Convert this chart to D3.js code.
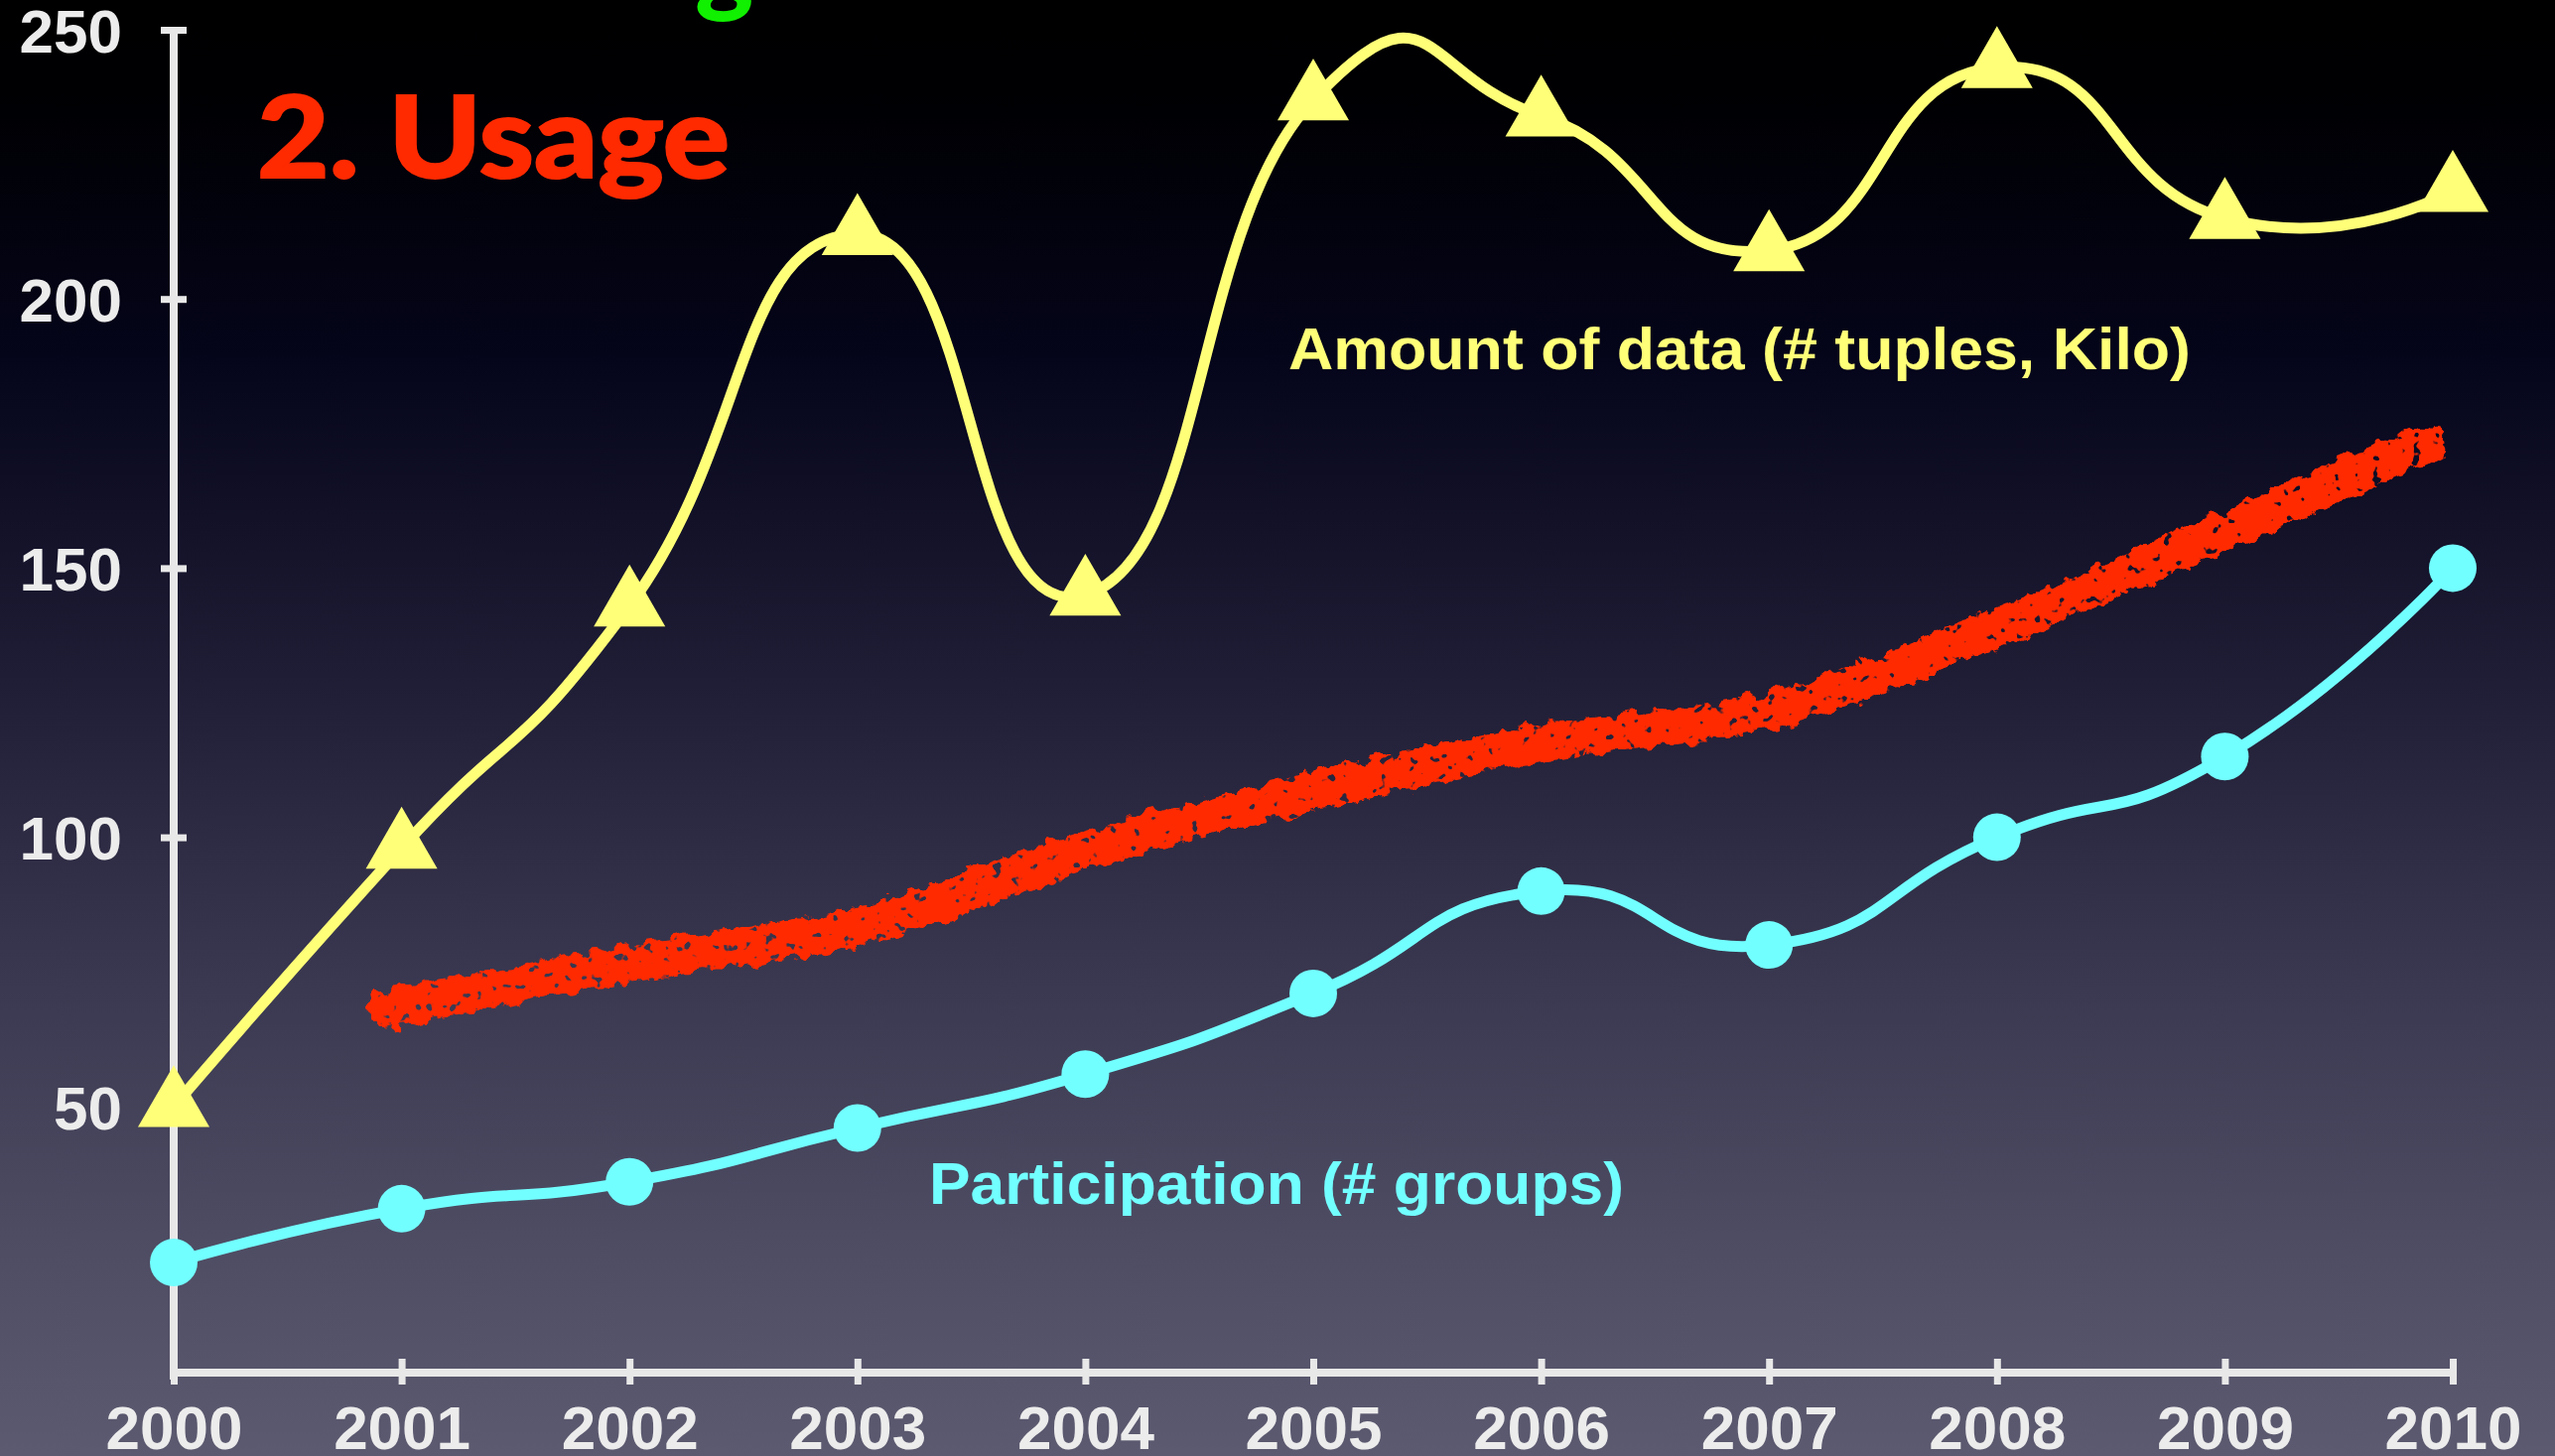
<!DOCTYPE html>
<html lang="en">
    <head>
        <meta charset="utf-8">
        <title>usage</title>
        <script type="text/javascript" src="https://cdnjs.cloudflare.com/ajax/libs/d3/7.8.5/d3.min.js"></script>
        <style type="text/css">
        body { margin: 0; padding: 0; background: #000; overflow: hidden; }
        svg { display: block; }
        </style>
    </head>
    <body>
        <div id = "drawing"></div>
        <script type="text/javascript">
            // values
            var years = [2000, 2001, 2002, 2003, 2004, 2005, 2006, 2007, 2008, 2009, 2010];
            var amountData = [50, 98, 143, 212, 145, 237, 234, 209, 243, 215, 220];
            var participation = [21, 31, 36, 46, 56, 71, 90, 80, 100, 115, 150];
            // hand drawn red trend stroke
            var trendYears = [2000.93, 2002, 2003, 2004, 2005, 2006, 2007, 2008, 2009, 2009.88];
            var trendValues = [68, 76.5, 83.5, 97.5, 108.5, 117.5, 123.5, 139, 157, 173];
            var yTicks = [50, 100, 150, 200, 250];
            var title = "2. Usage";
            var amountLabel = "Amount of data (# tuples, Kilo)";
            var partLabel = "Participation (# groups)";

            var W = 2574, H = 1467;
            var yellow = "#ffff78", cyan = "#72ffff", red = "#ff2a00", axisCol = "#e8e8e8";

            var svg = d3.select("#drawing")
                .append("svg")
                .attr("width", W)
                .attr("height", H);

            var defs = svg.append("defs");
            var grad = defs.append("linearGradient")
                .attr("id", "bg")
                .attr("x1", 0).attr("y1", 0).attr("x2", 0).attr("y2", 1);
            [[0, "#000000"], [0.08, "#000004"], [0.25, "#05051b"], [0.48, "#211f37"],
             [0.68, "#3b3951"], [0.85, "#4e4c63"], [1, "#5c5a70"]].forEach(function(s){
                grad.append("stop").attr("offset", s[0]).attr("stop-color", s[1]);
            });

            // rough marker-pen look for the trend stroke
            var rough = defs.append("filter")
                .attr("id", "rough")
                .attr("x", "-5%").attr("y", "-30%")
                .attr("width", "110%").attr("height", "160%");
            rough.append("feTurbulence")
                .attr("type", "fractalNoise").attr("baseFrequency", "0.06")
                .attr("numOctaves", 3).attr("seed", 4).attr("result", "noise");
            rough.append("feDisplacementMap")
                .attr("in", "SourceGraphic").attr("in2", "noise")
                .attr("scale", 20).attr("xChannelSelector", "R").attr("yChannelSelector", "G")
                .attr("result", "disp");
            rough.append("feTurbulence")
                .attr("type", "fractalNoise").attr("baseFrequency", "0.1")
                .attr("numOctaves", 2).attr("seed", 11).attr("result", "n2");
            rough.append("feColorMatrix")
                .attr("in", "n2").attr("type", "matrix")
                .attr("values", "0 0 0 0 0  0 0 0 0 0  0 0 0 0 0  16 0 0 0 -4.3")
                .attr("result", "mask");
            rough.append("feComposite")
                .attr("in", "disp").attr("in2", "mask").attr("operator", "in");

            svg.append("rect")
                .attr("width", W).attr("height", H)
                .style("fill", "url(#bg)");

            var x = d3.scaleLinear().domain([2000, 2010]).range([175, 2471]);
            var y = d3.scaleLinear().domain([0, 250]).range([1386, 30]);

            // title, with the bottom of the green line above it peeking in
            svg.append("text")
                .attr("x", 700)
                .attr("y", 2)
                .attr("font-family", "Lato, sans-serif")
                .attr("font-weight", 900)
                .attr("font-size", "112px")
                .style("fill", "#10f000")
                .text("g");

            svg.append("text")
                .attr("x", 259)
                .attr("y", 179)
                .attr("font-family", "Lato, sans-serif")
                .attr("font-weight", 900)
                .attr("font-size", "114px")
                .attr("textLength", 476)
                .attr("lengthAdjust", "spacingAndGlyphs")
                .style("fill", red)
                .style("stroke", red)
                .style("stroke-width", 2)
                .text(title);

            // axes
            var yAxis = svg.append("g")
                .attr("transform", "translate(" + x(2000) + ",0)")
                .call(d3.axisLeft(y).tickValues(yTicks).tickSizeOuter(0).tickFormat(d3.format("d")));
            yAxis.select(".domain")
                .attr("stroke", axisCol).attr("stroke-width", 8)
                .attr("d", "M0," + (y(0) + 4) + "V" + y(250));
            yAxis.selectAll(".tick line")
                .attr("x1", -13).attr("x2", 13)
                .attr("stroke", axisCol).attr("stroke-width", 7);
            yAxis.selectAll(".tick text")
                .attr("x", -52).attr("dy", "0.36em")
                .attr("font-family", "'Liberation Sans', Arial, sans-serif")
                .attr("font-weight", "bold")
                .attr("font-size", "62px")
                .attr("fill", "#ececec");

            var xAxis = svg.append("g")
                .attr("transform", "translate(0," + 1383 + ")")
                .call(d3.axisBottom(x).tickValues(years).tickSizeOuter(0).tickFormat(d3.format("d")));
            xAxis.select(".domain")
                .attr("stroke", axisCol).attr("stroke-width", 8)
                .attr("d", "M" + (x(2000) - 4) + ",0H" + (x(2010) + 4));
            xAxis.selectAll(".tick line")
                .attr("y1", -14).attr("y2", 12)
                .attr("stroke", axisCol).attr("stroke-width", 7);
            xAxis.selectAll(".tick text")
                .attr("y", 77).attr("dy", 0)
                .attr("font-family", "'Liberation Sans', Arial, sans-serif")
                .attr("font-weight", "bold")
                .attr("font-size", "62px")
                .attr("fill", "#ececec");

            // red trend
            var trendLine = d3.line()
                .x(function(d){ return x(d[0]); })
                .y(function(d){ return y(d[1]); })
                .curve(d3.curveCatmullRom.alpha(0.5));
            svg.append("path")
                .attr("d", trendLine(d3.zip(trendYears, trendValues)))
                .attr("fill", "none")
                .attr("stroke", red)
                .attr("stroke-width", 38)
                .attr("stroke-linecap", "round")
                .attr("filter", "url(#rough)");

            var smooth = d3.line()
                .x(function(d){ return x(d[0]); })
                .y(function(d){ return y(d[1]); })
                .curve(d3.curveCardinal.tension(-0.6));

            // participation
            var partPts = d3.zip(years, participation);
            svg.append("path")
                .attr("d", smooth(partPts))
                .attr("fill", "none")
                .attr("stroke", cyan)
                .attr("stroke-width", 11);
            svg.selectAll("circle.part")
                .data(partPts)
                .enter()
                .append("circle")
                .attr("class", "part")
                .attr("cx", function(d){ return x(d[0]); })
                .attr("cy", function(d){ return y(d[1]); })
                .attr("r", 24)
                .style("fill", cyan);

            // amount of data
            var amountPts = d3.zip(years, amountData);
            svg.append("path")
                .attr("d", smooth(amountPts))
                .attr("fill", "none")
                .attr("stroke", yellow)
                .attr("stroke-width", 11);
            var tri = d3.symbol().type(d3.symbolTriangle).size(2250);
            svg.selectAll("path.amount")
                .data(amountPts)
                .enter()
                .append("path")
                .attr("class", "amount")
                .attr("transform", function(d){ return "translate(" + x(d[0]) + "," + y(d[1]) + ")"; })
                .attr("d", tri)
                .style("fill", yellow);

            // series labels
            svg.append("text")
                .attr("x", 1298)
                .attr("y", 372)
                .attr("font-family", "'Liberation Sans', Arial, sans-serif")
                .attr("font-weight", "bold")
                .attr("font-size", "60px")
                .attr("textLength", 909)
                .attr("lengthAdjust", "spacingAndGlyphs")
                .style("fill", yellow)
                .text(amountLabel);

            svg.append("text")
                .attr("x", 936)
                .attr("y", 1213)
                .attr("font-family", "'Liberation Sans', Arial, sans-serif")
                .attr("font-weight", "bold")
                .attr("font-size", "60px")
                .attr("textLength", 700)
                .attr("lengthAdjust", "spacingAndGlyphs")
                .style("fill", cyan)
                .text(partLabel);
        </script>
    </body>
</html>
